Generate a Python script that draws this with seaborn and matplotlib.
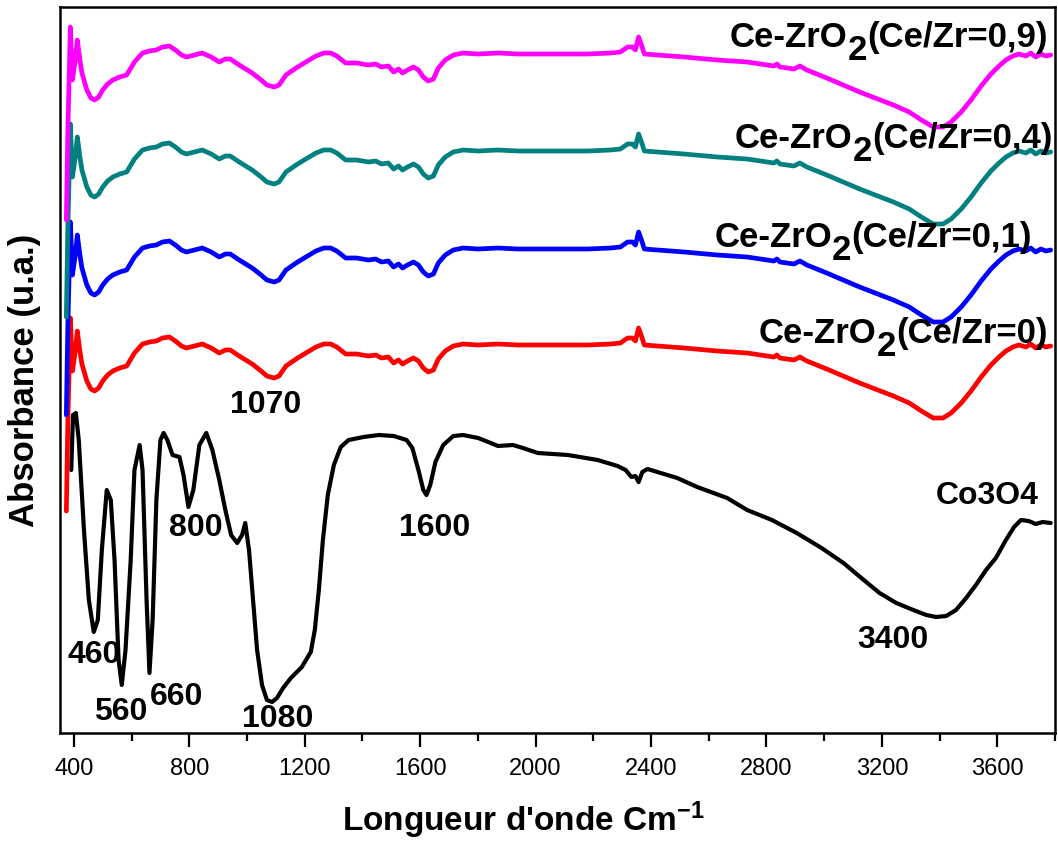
import matplotlib
matplotlib.use("Agg")
import matplotlib.pyplot as plt
import seaborn as sns
import pandas as pd

# ---------------- data ----------------
co3o4_wn = [391, 397, 407, 417, 435, 452, 469, 483, 497, 514, 528, 541, 555, 566, 579, 597,
            610, 628, 638, 652, 662, 673, 686, 700, 711, 724, 742, 766, 780, 797, 814, 835,
            859, 880, 904, 925, 945, 966, 983, 994, 1007, 1021, 1035, 1052, 1069, 1087, 1104,
            1125, 1152, 1190, 1221, 1235, 1249, 1263, 1280, 1301, 1325, 1352, 1404, 1456, 1508,
            1553, 1573, 1594, 1611, 1622, 1635, 1653, 1680, 1715, 1749, 1801, 1836, 1870, 1922,
            1956, 2008, 2112, 2215, 2284, 2312, 2332, 2346, 2357, 2370, 2388, 2491, 2560, 2664,
            2733, 2819, 2905, 2991, 3067, 3129, 3192, 3250, 3309, 3354, 3388, 3423, 3457, 3492,
            3526, 3561, 3595, 3630, 3658, 3682, 3709, 3733, 3757, 3785]
co3o4_abs = [263, 318, 320, 293, 203, 133, 101, 113, 183, 243, 233, 173, 73, 48, 83, 173,
             263, 288, 263, 133, 60, 113, 233, 293, 300, 293, 278, 276, 258, 226, 243, 288,
             300, 283, 253, 223, 198, 190, 198, 210, 183, 133, 83, 48, 33, 31, 35,
             45, 55, 66, 81, 103, 143, 193, 238, 268, 286, 293, 296, 298, 297,
             293, 285, 263, 243, 238, 248, 271, 288, 297, 298, 295, 291, 287, 288,
             285, 280, 278, 273, 267, 263, 256, 257, 251, 261, 264, 255, 246, 235,
             223, 213, 200, 185, 170, 155, 140, 130, 123, 118, 116, 117, 123, 135,
             148, 163, 175, 193, 206, 213, 212, 209, 211, 210]

cezr_wn = [374, 379, 388, 395, 405, 412, 421, 428, 445, 459, 472, 486, 500, 517, 535, 559,
           583, 610, 638, 662, 686, 707, 731, 752, 773, 790, 818, 845, 876, 904, 925, 942,
           973, 1018, 1049, 1069, 1094, 1111, 1135, 1170, 1204, 1239, 1266, 1290, 1311, 1342,
           1380, 1421, 1446, 1466, 1490, 1508, 1525, 1539, 1556, 1577, 1594, 1611, 1628, 1646,
           1663, 1687, 1715, 1749, 1801, 1870, 1939, 2053, 2181, 2260, 2294, 2319, 2336, 2346,
           2357, 2367, 2377, 2422, 2515, 2629, 2733, 2826, 2836, 2847, 2895, 2916, 2940, 3009,
           3123, 3240, 3295, 3337, 3378, 3412, 3440, 3475, 3509, 3544, 3578, 3606, 3630, 3654,
           3675, 3699, 3716, 3733, 3751, 3768, 3785]

ce09_abs = [513, 600, 706, 653, 673, 693, 673, 660, 643, 635, 633, 636, 643, 649, 653, 656,
            658, 671, 680, 682, 683, 686, 687, 683, 678, 676, 678, 680, 676, 671, 674, 674,
            668, 660, 653, 648, 646, 648, 658, 665, 671, 677, 680, 680, 677, 670,
            670, 668, 669, 666, 667, 661, 664, 660, 663, 666, 663, 656, 652, 654,
            665, 673, 678, 680, 679, 680, 679, 679, 679, 680, 681, 686, 686, 683,
            696, 688, 679, 678, 676, 673, 671, 667, 669, 666, 664, 667, 663, 655,
            641, 628, 621, 613, 606, 606, 611, 621, 633, 647, 659, 667, 673, 677,
            679, 677, 680, 676, 679, 677, 678]

ce04_abs = [416, 503, 609, 556, 576, 596, 576, 563, 546, 538, 536, 539, 546, 552, 556, 559,
            561, 574, 583, 585, 586, 589, 590, 586, 581, 579, 581, 583, 579, 574, 577, 577,
            571, 563, 556, 551, 549, 551, 561, 568, 574, 580, 583, 583, 580, 573,
            573, 571, 572, 569, 570, 564, 567, 563, 566, 569, 566, 559, 555, 557,
            568, 576, 581, 583, 582, 583, 582, 582, 582, 583, 584, 589, 589, 586,
            599, 591, 582, 581, 579, 576, 574, 570, 572, 569, 567, 570, 566, 558,
            544, 531, 524, 516, 509, 509, 514, 524, 536, 550, 562, 570, 576, 580,
            582, 580, 583, 579, 582, 580, 581]

ce01_abs = [318, 405, 511, 458, 478, 498, 478, 465, 448, 440, 438, 441, 448, 454, 458, 461,
            463, 476, 485, 487, 488, 491, 492, 488, 483, 481, 483, 485, 481, 476, 479, 479,
            473, 465, 458, 453, 451, 453, 463, 470, 476, 482, 485, 485, 482, 475,
            475, 473, 474, 471, 472, 466, 469, 465, 468, 471, 468, 461, 457, 459,
            470, 478, 483, 485, 484, 485, 484, 484, 484, 485, 486, 491, 491, 488,
            501, 493, 484, 483, 481, 478, 476, 472, 474, 471, 469, 472, 468, 460,
            446, 433, 426, 418, 411, 411, 416, 426, 438, 452, 464, 472, 478, 482,
            484, 482, 485, 481, 484, 482, 483]

ce0_abs = [222, 309, 415, 362, 382, 402, 382, 369, 352, 344, 342, 345, 352, 358, 362, 365,
           367, 380, 389, 391, 392, 395, 396, 392, 387, 385, 387, 389, 385, 380, 383, 383,
           377, 369, 362, 357, 355, 357, 367, 374, 380, 386, 389, 389, 386, 379,
           379, 377, 378, 375, 376, 370, 373, 369, 372, 375, 372, 365, 361, 363,
           374, 382, 387, 389, 388, 389, 388, 388, 388, 389, 390, 395, 395, 392,
           405, 397, 388, 387, 385, 382, 380, 376, 378, 375, 373, 376, 372, 364,
           350, 337, 330, 322, 315, 315, 320, 330, 342, 356, 368, 376, 382, 386,
           388, 386, 389, 385, 388, 386, 387]

xticks = [400, 800, 1200, 1600, 2000, 2400, 2800, 3200, 3600]
ce_names = ["0", "0,1", "0,4", "0,9"]
peak_labels = ["460", "560", "660", "800", "1080", "1600", "3400", "1070"]

# ---------------- style ----------------
sns.set_style("ticks")
plt.rcParams["font.family"] = ["Liberation Sans", "DejaVu Sans"]
plt.rcParams["mathtext.fontset"] = "custom"
plt.rcParams["mathtext.rm"] = "Liberation Sans"
plt.rcParams["mathtext.bf"] = "Liberation Sans:bold"
plt.rcParams["mathtext.it"] = "Liberation Sans:italic"
plt.rcParams["text.color"] = "black"
plt.rcParams["axes.labelcolor"] = "black"
plt.rcParams["xtick.color"] = "black"
plt.rcParams["xtick.labelcolor"] = "black"

fig = plt.figure(figsize=(10.58, 8.43), dpi=100)
ax = fig.add_axes([60 / 1058, 110 / 843, 995 / 1058, 726 / 843])

curves = [
    (co3o4_wn, co3o4_abs, "black", 3.0),
    (cezr_wn, ce0_abs, "#FF0000", 3.4),
    (cezr_wn, ce01_abs, "#0000FF", 3.4),
    (cezr_wn, ce04_abs, "#008080", 3.4),
    (cezr_wn, ce09_abs, "#FF00FF", 3.4),
]
for wn, ab, col, lw in curves:
    df = pd.DataFrame({"wn": wn, "abs": ab})
    sns.lineplot(data=df, x="wn", y="abs", ax=ax, color=col, lw=lw,
                 sort=False, estimator=None, legend=False)

ax.set_xlim(352, 3785)
ax.set_ylim(0, 726)
ax.set_yticks([])
ax.set_xticks(xticks)
ax.set_xticks([x + 200 for x in xticks[:-1]] + [3800], minor=True)
ax.set_xticklabels([str(t) for t in xticks])
ax.tick_params(axis="x", which="major", direction="out", length=10, width=1.6,
               labelsize=17, pad=8, color="black", labelcolor="black")
ax.tick_params(axis="x", which="minor", direction="out", length=6, width=1.6, color="black")
for sp in ax.spines.values():
    sp.set_visible(True)
    sp.set_linewidth(1.8)
    sp.set_color("black")

ax.set_xlabel(r"Longueur d'onde Cm$^{\mathbf{-1}}$", fontsize=24, fontweight="bold",
              ha="center", va="center", color="black")
ax.xaxis.set_label_coords((523 - 60) / 995, (733 - 820) / 726)
ax.set_ylabel("Absorbance (u.a.)", fontsize=25, fontweight="bold",
              ha="center", va="center", rotation_mode="default", color="black")
ax.yaxis.set_label_coords((25 - 60) / 995, (733 - 380) / 726)

# peak annotations
peak_pos = [(469, 78), (562, 21), (755, 36), (821, 205), (1107, 14), (1649, 205), (3240, 93), (1066, 328)]
for lab, (px, py) in zip(peak_labels, peak_pos):
    ax.text(px, py, lab, fontsize=23, fontweight="bold", ha="center", va="center", color="black")
ax.text(3564, 237, "Co3O4", fontsize=23, fontweight="bold", ha="center", va="center", color="black")

# Ce-ZrO2 labels (full-size lowered "2")
ce_pos = [(2774, 390), (2619, 486), (2691, 585), (2674, 686)]
for name, (x0, yb) in zip(ce_names, ce_pos):
    t1 = ax.text(x0, yb, "Ce-ZrO", fontsize=25, fontweight="bold", ha="left", va="baseline",
                 color="black")
    t2 = ax.annotate("2", xy=(1, 0), xycoords=t1, xytext=(0, -9.5), textcoords="offset points",
                     fontsize=25, fontweight="bold", ha="left", va="bottom", color="black")
    ax.annotate(f"(Ce/Zr={name})", xy=(1, 0), xycoords=(t2, t1),
                fontsize=25, fontweight="bold", ha="left", va="bottom", color="black")

fig.savefig("out.png", dpi=100)
